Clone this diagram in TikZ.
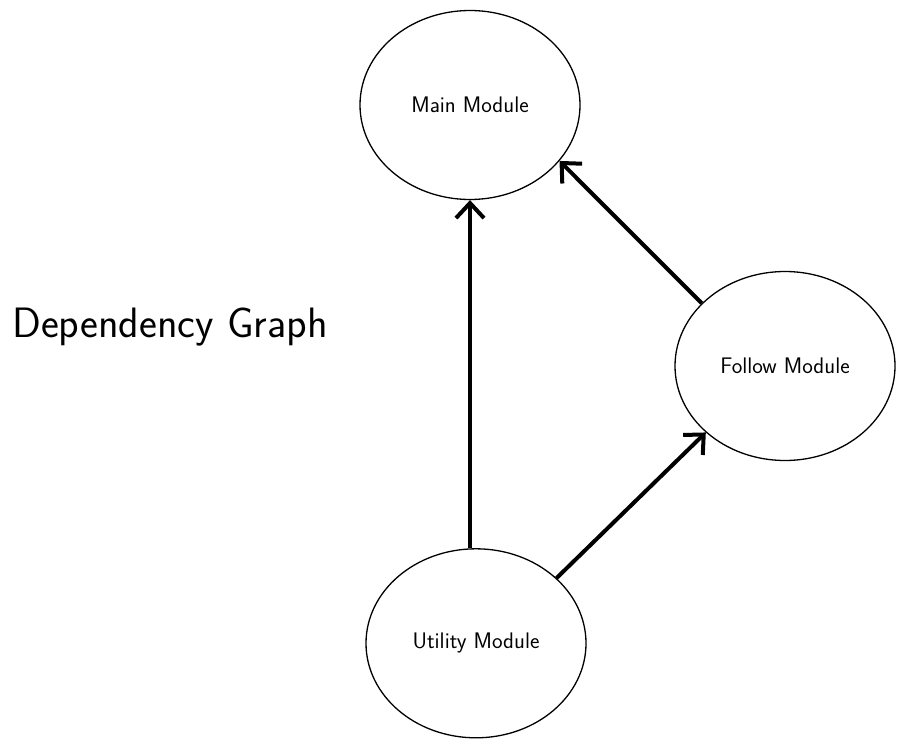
\documentclass[tikz,border=0pt]{standalone}
\usepackage{tikz}
\usetikzlibrary{positioning, arrows.meta, shapes.geometric}
\tikzset{
    module/.style={ellipse, draw, line width=1.3pt, minimum width=220pt, minimum height=189pt, inner sep=0pt, font=\sffamily\fontsize{22.5}{27}\selectfont},
    dep/.style={line width=4pt, -{Straight Barb[length=15pt, width=28pt]}},
    caption/.style={font=\sffamily\fontsize{42.5}{50}\selectfont, inner sep=0pt},
}

\begin{document}
\begin{tikzpicture}[x=1pt, y=-1pt]
    \useasboundingbox (0,0) rectangle (904,746);

    \node[module] (main) at (470,105) {Main Module};
    \node[module, below=348pt of main, xshift=6pt] (util) {Utility Module};
    \node[module] (follow) at (785,366) {Follow Module};

    \node[caption, anchor=base west] (title) at (12,337) {Dependency Graph};

    \draw (util.north -| main.south) edge[dep] (main.south);
    \draw (follow.143) edge[dep] (main.-32);
    \draw (util.39) edge[dep] (follow.220);
\end{tikzpicture}
\end{document}
